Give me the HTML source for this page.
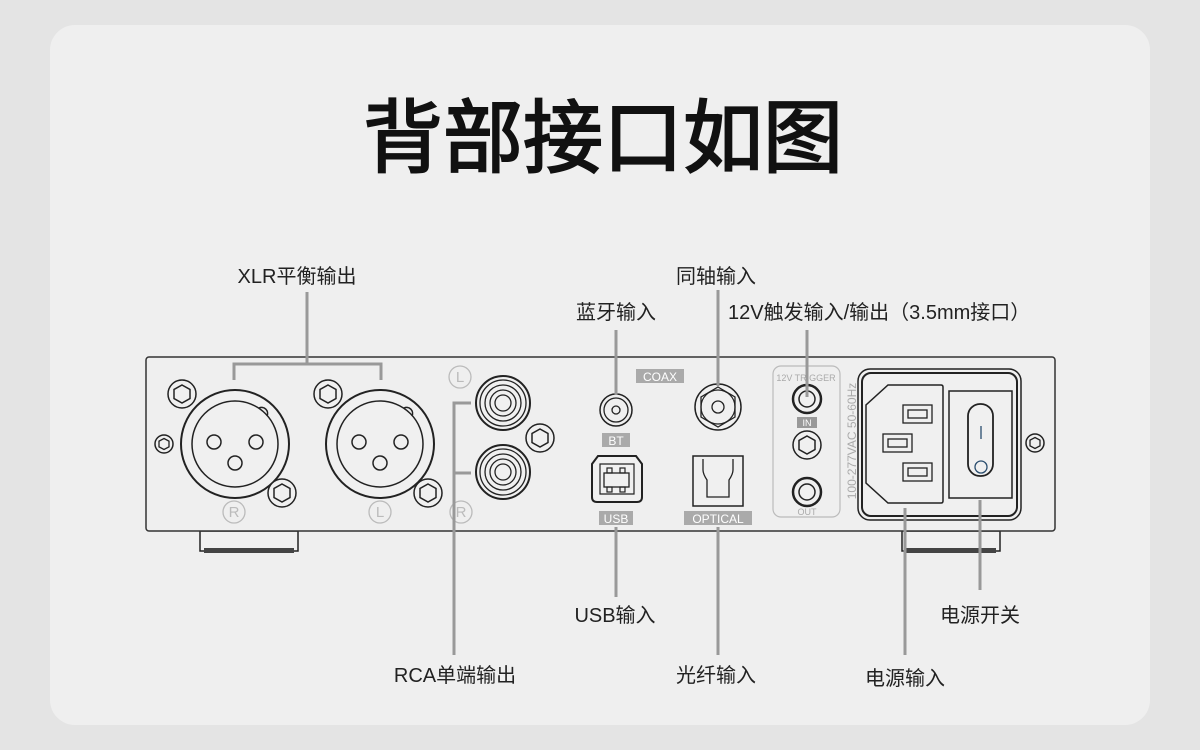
<!DOCTYPE html>
<html><head><meta charset="utf-8"><style>
html,body{margin:0;padding:0;background:#e4e4e4;}
svg{display:block;}
text{font-family:"Liberation Sans","Noto Sans CJK SC",sans-serif;}
</style></head><body>
<svg width="1200" height="750" viewBox="0 0 1200 750" xmlns="http://www.w3.org/2000/svg">
<defs>
<g id="screw"><circle r="14" fill="#f0f0f0" stroke="#222" stroke-width="1.5"/><polygon points="0,-9 8,-4.5 8,4.5 0,9 -8,4.5 -8,-4.5" fill="none" stroke="#222" stroke-width="1.5"/></g>
<g id="sscrew"><circle r="9" fill="#f0f0f0" stroke="#222" stroke-width="1.5"/><polygon points="0,-5.5 5,-2.8 5,2.8 0,5.5 -5,2.8 -5,-2.8" fill="none" stroke="#222" stroke-width="1.3"/></g>
<g id="xlr">
<circle r="54" fill="#f0f0f0" stroke="#222" stroke-width="2"/>
<circle r="43" fill="none" stroke="#222" stroke-width="1.5"/>
<path d="M 24,-36 a 6 6 0 0 1 8,8" fill="none" stroke="#222" stroke-width="1.5"/>
<circle cx="-21" cy="-2" r="7" fill="none" stroke="#222" stroke-width="1.5"/>
<circle cx="21" cy="-2" r="7" fill="none" stroke="#222" stroke-width="1.5"/>
<circle cx="0" cy="19" r="7" fill="none" stroke="#222" stroke-width="1.5"/>
</g>
<g id="rca">
<circle r="27" fill="#f0f0f0" stroke="#222" stroke-width="2"/>
<circle r="23" fill="none" stroke="#222" stroke-width="1.3"/>
<circle r="18" fill="none" stroke="#222" stroke-width="1.3"/>
<circle r="13" fill="none" stroke="#222" stroke-width="1.3"/>
<circle r="8" fill="none" stroke="#222" stroke-width="1.3"/>
</g>
</defs>
<rect x="50" y="25" width="1100" height="700" rx="25" fill="#efefef"/>
<text x="603" y="166" text-anchor="middle" font-size="80" font-weight="normal" fill="#111" stroke="#111" stroke-width="2">背部接口如图</text>

<!-- feet -->
<rect x="200" y="531" width="98" height="20" fill="#f0f0f0" stroke="#222" stroke-width="1.5"/>
<rect x="204" y="548" width="90" height="5" fill="#444"/>
<rect x="902" y="531" width="98" height="20" fill="#f0f0f0" stroke="#222" stroke-width="1.5"/>
<rect x="906" y="548" width="90" height="5" fill="#444"/>
<!-- panel -->
<rect x="146" y="357" width="909" height="174" rx="3" fill="#efefef" stroke="#333" stroke-width="1.5"/>

<use href="#sscrew" x="164" y="444"/>
<use href="#xlr" x="235" y="444"/>
<use href="#screw" x="182" y="394"/>
<use href="#screw" x="282" y="493"/>
<use href="#xlr" x="380" y="444"/>
<use href="#screw" x="328" y="394"/>
<use href="#screw" x="428" y="493"/>
<use href="#rca" x="503" y="403"/>
<use href="#rca" x="503" y="472"/>
<use href="#screw" x="540" y="438"/>

<g fill="none" stroke="#bbb" stroke-width="1.3">
<circle cx="234" cy="512" r="11"/><circle cx="380" cy="512" r="11"/>
<circle cx="460" cy="377" r="11"/><circle cx="461" cy="512" r="11"/>
</g>
<g font-size="15" fill="#bbb" text-anchor="middle">
<text x="234" y="517">R</text><text x="380" y="517">L</text>
<text x="460" y="382">L</text><text x="461" y="517">R</text>
</g>

<!-- BT / COAX -->
<circle cx="616" cy="410" r="16" fill="#f0f0f0" stroke="#222" stroke-width="1.5"/>
<circle cx="616" cy="410" r="12" fill="none" stroke="#222" stroke-width="1.3"/>
<circle cx="616" cy="410" r="4" fill="none" stroke="#222" stroke-width="1.3"/>
<rect x="602" y="433" width="28" height="14" fill="#aaa"/>
<text x="616" y="445" text-anchor="middle" font-size="12" fill="#fff">BT</text>
<rect x="636" y="369" width="48" height="14" fill="#aaa"/>
<text x="660" y="381" text-anchor="middle" font-size="12" fill="#fff">COAX</text>
<circle cx="718" cy="407" r="23" fill="#f0f0f0" stroke="#222" stroke-width="1.5"/>
<polygon points="718,387 735,397 735,417 718,427 701,417 701,397" fill="none" stroke="#222" stroke-width="1.3"/>
<circle cx="718" cy="407" r="17" fill="none" stroke="#222" stroke-width="1.2"/>
<circle cx="718" cy="407" r="6" fill="none" stroke="#222" stroke-width="1.3"/>

<!-- USB -->
<path d="M598,456 H636 L642,464 V497 Q642,502 637,502 H597 Q592,502 592,497 V464 Z" fill="#f0f0f0" stroke="#222" stroke-width="2"/>
<path d="M600,464 H634 V494 H600 Z" fill="none" stroke="#222" stroke-width="1.2"/>
<rect x="604" y="473" width="25" height="14" fill="none" stroke="#222" stroke-width="1.3"/>
<rect x="607" y="468" width="5" height="5" fill="none" stroke="#222" stroke-width="1.2"/>
<rect x="620" y="468" width="5" height="5" fill="none" stroke="#222" stroke-width="1.2"/>
<rect x="607" y="487" width="5" height="5" fill="none" stroke="#222" stroke-width="1.2"/>
<rect x="620" y="487" width="5" height="5" fill="none" stroke="#222" stroke-width="1.2"/>
<rect x="599" y="511" width="34" height="14" fill="#aaa"/>
<text x="616" y="523" text-anchor="middle" font-size="12" fill="#fff">USB</text>

<!-- OPTICAL -->
<rect x="693" y="456" width="50" height="50" fill="#f0f0f0" stroke="#222" stroke-width="1.5"/>
<path d="M703,459 V470 Q703,474 707,480 V497 H729 V480 Q733,474 733,470 V459" fill="none" stroke="#222" stroke-width="1.3"/>
<rect x="684" y="511" width="68" height="14" fill="#aaa"/>
<text x="718" y="523" text-anchor="middle" font-size="12" fill="#fff">OPTICAL</text>

<!-- trigger -->
<rect x="773" y="366" width="67" height="151" rx="8" fill="none" stroke="#bbb" stroke-width="1.2"/>
<text x="806" y="381" text-anchor="middle" font-size="9" fill="#aaa">12V TRIGGER</text>
<circle cx="807" cy="399" r="14" fill="#f0f0f0" stroke="#222" stroke-width="2.5"/>
<circle cx="807" cy="399" r="8" fill="none" stroke="#222" stroke-width="1.5"/>
<rect x="797" y="417" width="20" height="11" fill="#999"/>
<text x="807" y="426" text-anchor="middle" font-size="9" fill="#fff">IN</text>
<use href="#screw" x="807" y="445"/>
<circle cx="807" cy="492" r="14" fill="#f0f0f0" stroke="#222" stroke-width="2.5"/>
<circle cx="807" cy="492" r="8" fill="none" stroke="#222" stroke-width="1.5"/>
<text x="807" y="515" text-anchor="middle" font-size="9" fill="#aaa">OUT</text>
<text transform="translate(856,441) rotate(-90)" text-anchor="middle" font-size="12" fill="#aaa">100-277VAC 50-60Hz</text>

<!-- power module -->
<rect x="858" y="369" width="163" height="151" rx="12" fill="#f0f0f0" stroke="#222" stroke-width="1.5"/>
<rect x="862" y="373" width="155" height="143" rx="9" fill="none" stroke="#222" stroke-width="2"/>
<path d="M888,385 H941 Q943,385 943,387 V501 Q943,503 941,503 H888 L866,483 V405 Z" fill="#f0f0f0" stroke="#222" stroke-width="1.5"/>
<g fill="none" stroke="#222" stroke-width="1.3">
<rect x="903" y="405" width="29" height="18"/><rect x="908" y="410" width="19" height="8"/>
<rect x="883" y="434" width="29" height="18"/><rect x="888" y="439" width="19" height="8"/>
<rect x="903" y="463" width="29" height="18"/><rect x="908" y="468" width="19" height="8"/>
</g>
<rect x="949" y="391" width="63" height="107" fill="#f0f0f0" stroke="#222" stroke-width="1.5"/>
<rect x="968" y="404" width="25" height="72" rx="12" fill="#f0f0f0" stroke="#222" stroke-width="1.8"/>
<line x1="981" y1="426" x2="981" y2="439" stroke="#2a4d6e" stroke-width="1.3"/>
<circle cx="981" cy="467" r="6" fill="none" stroke="#2a4d6e" stroke-width="1.3"/>
<use href="#sscrew" x="1035" y="443"/>

<!-- leader lines -->
<g stroke="#999" stroke-width="3" fill="none">
<path d="M234,380 V364 H381 V380"/><line x1="307" y1="364" x2="307" y2="292"/>
<path d="M471,403 H454 V655"/><line x1="454" y1="473" x2="471" y2="473"/>
<line x1="616" y1="330" x2="616" y2="395"/>
<line x1="718" y1="290" x2="718" y2="386"/>
<line x1="807" y1="330" x2="807" y2="397"/>
<line x1="616" y1="527" x2="616" y2="597"/>
<line x1="718" y1="527" x2="718" y2="655"/>
<line x1="905" y1="508" x2="905" y2="655"/>
<line x1="980" y1="500" x2="980" y2="590"/>
</g>

<g font-size="20" fill="#222" text-anchor="middle">
<text x="297" y="283">XLR平衡输出</text>
<text x="716" y="283">同轴输入</text>
<text x="616" y="319">蓝牙输入</text>
<text x="728" y="319" text-anchor="start">12V触发输入/输出（3.5mm接口）</text>
<text x="615" y="622">USB输入</text>
<text x="980" y="622">电源开关</text>
<text x="455" y="682">RCA单端输出</text>
<text x="716" y="682">光纤输入</text>
<text x="905" y="685">电源输入</text>
</g>
</svg>
</body></html>
